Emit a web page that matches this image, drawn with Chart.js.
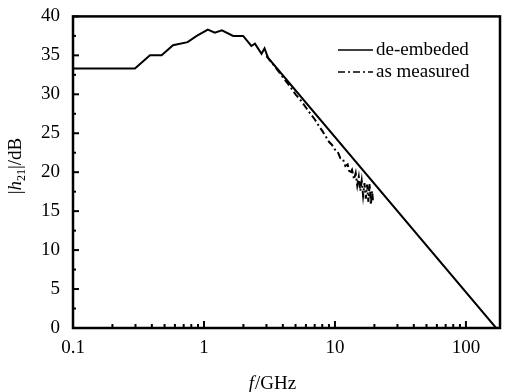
<!DOCTYPE html>
<html>
<head>
<meta charset="utf-8">
<script src="https://cdn.jsdelivr.net/npm/chart.js@4.4.0/dist/chart.umd.min.js"></script>
<style>
  html, body { margin: 0; padding: 0; background: #fff; }
  #wrap { width: 505px; height: 392px; }
</style>
</head>
<body>
<div id="wrap"><canvas id="gainChart"></canvas></div>
<script>
// frequency in GHz, gain |h21| in dB
const deembFreq = [0.1, 0.297, 0.387, 0.475, 0.58, 0.75, 0.88, 1.07, 1.21, 1.37, 1.67, 1.99, 2.3, 2.45, 2.75, 2.9, 3.08, 170];
const deembGain = [33.3, 33.3, 35.0, 35.0, 36.3, 36.7, 37.5, 38.3, 37.9, 38.2, 37.5, 37.5, 36.2, 36.5, 35.2, 35.9, 34.7, 0];

const measFreq = [3.0, 3.5, 4, 4.5, 5, 5.5, 6, 6.5, 7, 7.5, 8, 8.5, 9, 9.5, 10, 10.5, 11, 11.5, 12, 12.5, 13, 13.5, 14, 14.4, 14.8, 15.2, 15.6, 16, 16.4, 16.8, 17.2, 17.6, 18, 18.4, 18.8, 19.2, 19.5];
const measGain = [34.9, 33.5, 32.2, 31.1, 30.0, 29.2, 28.3, 27.5, 26.8, 26.0, 25.3, 24.6, 23.9, 23.5, 22.9, 22.6, 21.8, 21.7, 20.8, 21.0, 19.8, 20.3, 19.1, 19.9, 18.3, 19.4, 17.6, 18.9, 17.0, 18.6, 16.6, 18.4, 16.2, 18.5, 15.8, 17.6, 16.4];

const xTickValues = [0.1, 1, 10, 100];
const yTickValues = [0, 5, 10, 15, 20, 25, 30, 35, 40];
const seriesNames = ["de-embeded", "as measured"];

const SERIF = "'Liberation Serif', 'Times New Roman', serif";
const toPoints = (xs, ys) => xs.map((v, i) => ({ x: v, y: ys[i] }));

// frame, inward ticks, legend and axis titles
const decorPlugin = {
  id: "decor",
  afterDraw(chart) {
    const { ctx, chartArea: { left, right, top, bottom }, scales: { x, y } } = chart;
    ctx.save();
    ctx.strokeStyle = "#000";
    ctx.lineWidth = 2.5;
    ctx.strokeRect(left, top, right - left, bottom - top);

    // y ticks (major every 5, minor every 2.5)
    ctx.lineWidth = 2;
    for (let v = 0; v <= 40; v += 2.5) {
      const py = y.getPixelForValue(v);
      const len = v % 5 === 0 ? 6 : 3;
      ctx.beginPath();
      ctx.moveTo(left, py);
      ctx.lineTo(left + len, py);
      ctx.stroke();
    }
    // x ticks (decades longer)
    xTickValues.forEach(d => {
      for (let k = 1; k <= 9; k++) {
        const v = d * k;
        if (v > x.max) break;
        const px = x.getPixelForValue(v);
        const len = k === 1 ? 7 : 4;
        ctx.beginPath();
        ctx.moveTo(px, bottom);
        ctx.lineTo(px, bottom - len);
        ctx.stroke();
      }
    });

    // legend
    ctx.font = "19px " + SERIF;
    ctx.fillStyle = "#000";
    ctx.textBaseline = "middle";
    chart.data.datasets.forEach((ds, i) => {
      const ly = 50 + i * 22;
      ctx.lineWidth = 1.5;
      ctx.setLineDash(ds.borderDash || []);
      ctx.beginPath();
      ctx.moveTo(338, ly);
      ctx.lineTo(373, ly);
      ctx.stroke();
      ctx.setLineDash([]);
      ctx.fillText(ds.label, 376, ly);
    });

    // x title: f/GHz
    ctx.textBaseline = "alphabetic";
    const italic = "italic 19px " + SERIF;
    const normal = "19px " + SERIF;
    ctx.font = italic;
    const wF = ctx.measureText("f").width;
    ctx.font = normal;
    const wRest = ctx.measureText("/GHz").width;
    let tx = 272 - (wF + wRest) / 2;
    ctx.font = italic;
    ctx.fillText("f", tx, 389);
    ctx.font = normal;
    ctx.fillText("/GHz", tx + wF + 1, 389);

    // y title: |h21|/dB rotated
    ctx.translate(21, 166);
    ctx.rotate(-Math.PI / 2);
    const parts = [
      { t: "|", f: normal, dy: 0 },
      { t: "h", f: italic, dy: 0 },
      { t: "21", f: "12px " + SERIF, dy: 4 },
      { t: "|/dB", f: normal, dy: 0 }
    ];
    let total = 0;
    parts.forEach(p => { ctx.font = p.f; p.w = ctx.measureText(p.t).width; total += p.w; });
    let cx = -total / 2;
    parts.forEach(p => {
      ctx.font = p.f;
      ctx.fillText(p.t, cx, p.dy);
      cx += p.w;
    });
    ctx.restore();
  }
};

new Chart(document.getElementById("gainChart"), {
  type: "line",
  data: {
    datasets: [
      {
        label: seriesNames[0],
        data: toPoints(deembFreq, deembGain),
        borderColor: "#000",
        borderWidth: 2,
        pointRadius: 0,
        tension: 0
      },
      {
        label: seriesNames[1],
        data: toPoints(measFreq, measGain),
        borderColor: "#000",
        borderWidth: 2,
        borderDash: [7, 3, 2, 3],
        pointRadius: 0,
        tension: 0
      }
    ]
  },
  options: {
    responsive: true,
    maintainAspectRatio: false,
    animation: false,
    devicePixelRatio: 1,
    layout: { padding: { left: 0, right: 5, top: 13, bottom: 0 } },
    plugins: { legend: { display: false }, tooltip: { enabled: false } },
    scales: {
      x: {
        type: "logarithmic",
        min: 0.1,
        max: 182,
        grid: { display: false },
        border: { display: false },
        afterBuildTicks: (scale) => { scale.ticks = xTickValues.map(v => ({ value: v })); },
        afterFit: (scale) => { scale.height = 64; },
        ticks: {
          color: "#000",
          padding: 1,
          maxRotation: 0,
          autoSkip: false,
          font: { family: SERIF, size: 19 },
          callback: (v) => String(v)
        }
      },
      y: {
        min: 0,
        max: 40,
        grid: { display: false },
        border: { display: false },
        afterBuildTicks: (scale) => { scale.ticks = yTickValues.map(v => ({ value: v })); },
        afterFit: (scale) => { scale.width = 73; },
        ticks: {
          color: "#000",
          padding: 5,
          font: { family: SERIF, size: 19 }
        }
      }
    }
  },
  plugins: [decorPlugin]
});
</script>
</body>
</html>
